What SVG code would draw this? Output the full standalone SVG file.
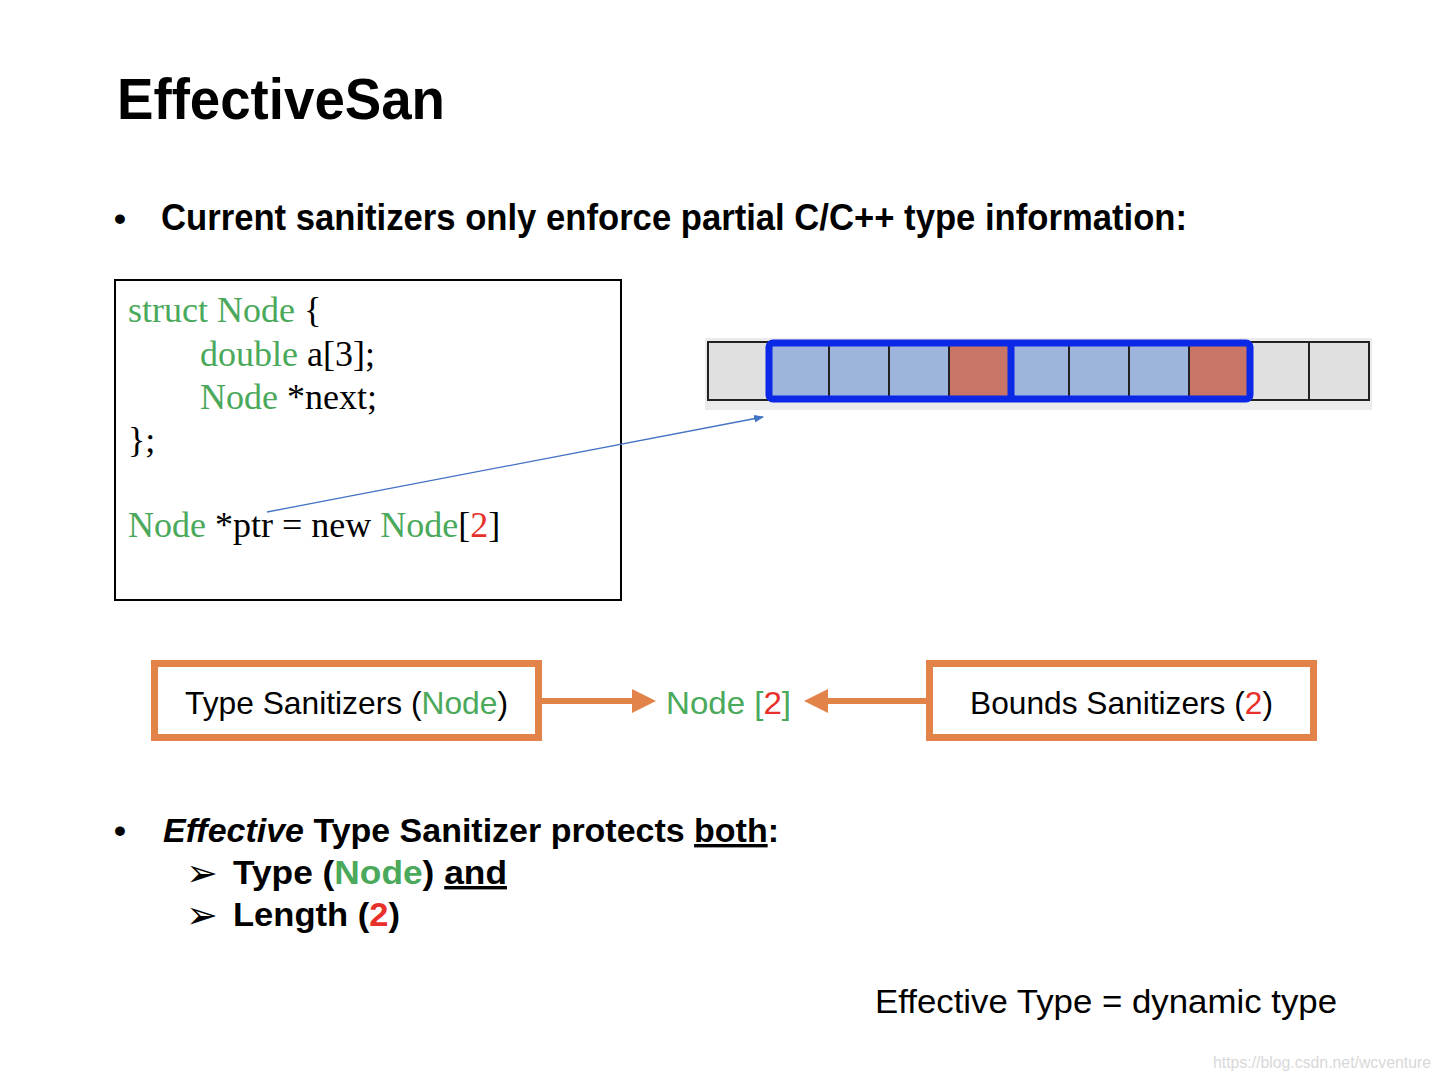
<svg xmlns="http://www.w3.org/2000/svg" width="1440" height="1080" viewBox="0 0 1440 1080">
<style>
.sans{font-family:"Liberation Sans","Noto Sans",Arial,sans-serif;}
.serif{font-family:"Liberation Serif","Times New Roman",serif;font-size:36px;fill:#000;}
.g{fill:#4aa95a;}
.r{fill:#e8302a;}
.cell{stroke:#222;stroke-width:2;}
.gray{fill:#e0e0e0;}
.blue{fill:#9db4dd;}
.red{fill:#c87466;}
.obox{fill:#fff;stroke:#e2844a;stroke-width:7;}
.oline{stroke:#e2844a;stroke-width:6;fill:none;}
.tri{font-family:"DejaVu Sans",sans-serif;font-size:38px;}
</style>
<defs>
<marker id="oa" markerWidth="4" markerHeight="4" refX="3" refY="2" orient="auto" markerUnits="strokeWidth" viewBox="0 0 4 4">
<path d="M0,0 L4,2 L0,4 Z" fill="#e2844a"/>
</marker>
<marker id="ba" markerWidth="10" markerHeight="8" refX="9" refY="4" orient="auto" markerUnits="userSpaceOnUse" viewBox="0 0 10 8">
<path d="M0,0 L10,4 L0,8 Z" fill="#4472c4"/>
</marker>
</defs>
<rect width="1440" height="1080" fill="#fff"/>

<text class="sans" x="117" y="119" font-size="58" font-weight="bold" textLength="328" lengthAdjust="spacingAndGlyphs">EffectiveSan</text>

<text class="sans" x="114" y="230" font-size="34" font-weight="bold">•</text>
<text class="sans" x="161" y="230" font-size="36" font-weight="bold" textLength="1026" lengthAdjust="spacingAndGlyphs">Current sanitizers only enforce partial C/C++ type information:</text>

<g id="code">
<rect x="115" y="280" width="506" height="320" fill="#fff" stroke="#000" stroke-width="2"/>
<text class="serif" x="128" y="322"><tspan class="g">struct Node</tspan> {</text>
<text class="serif" x="200" y="366"><tspan class="g">double</tspan> a[3];</text>
<text class="serif" x="200" y="409"><tspan class="g">Node</tspan> *next;</text>
<text class="serif" x="128" y="452">};</text>
<text class="serif" x="128" y="537"><tspan class="g">Node</tspan> *ptr = new <tspan class="g">Node</tspan>[<tspan class="r">2</tspan>]</text>
</g>

<g id="memory">
<rect x="705" y="338" width="667" height="72" fill="#ebebeb"/>
<rect class="cell gray" x="708" y="342" width="60" height="58"/>
<rect class="cell blue" x="768" y="342" width="61" height="58"/>
<rect class="cell blue" x="829" y="342" width="60" height="58"/>
<rect class="cell blue" x="889" y="342" width="60" height="58"/>
<rect class="cell red" x="949" y="342" width="62" height="58"/>
<rect class="cell blue" x="1011" y="342" width="58" height="58"/>
<rect class="cell blue" x="1069" y="342" width="60" height="58"/>
<rect class="cell blue" x="1129" y="342" width="60" height="58"/>
<rect class="cell red" x="1189" y="342" width="62" height="58"/>
<rect class="cell gray" x="1251" y="342" width="58" height="58"/>
<rect class="cell gray" x="1309" y="342" width="60" height="58"/>
<rect x="769" y="343" width="481" height="56" rx="4" fill="none" stroke="#0a28e6" stroke-width="7"/>
<line x1="1011" y1="343" x2="1011" y2="399" stroke="#0a28e6" stroke-width="7"/>
</g>

<g id="typesan">
<rect class="obox" x="154.5" y="663.5" width="384" height="74"/>
<text class="sans" x="185" y="714" font-size="32" textLength="323" lengthAdjust="spacingAndGlyphs">Type Sanitizers (<tspan class="g">Node</tspan>)</text>
</g>
<g id="nodelabel">
<text class="sans g" x="666" y="714" font-size="32" textLength="125" lengthAdjust="spacingAndGlyphs">Node [<tspan class="r">2</tspan>]</text>
</g>
<g id="boundssan">
<rect class="obox" x="929.5" y="663.5" width="384" height="74"/>
<text class="sans" x="970" y="714" font-size="32" textLength="303" lengthAdjust="spacingAndGlyphs">Bounds Sanitizers (<tspan class="r">2</tspan>)</text>
</g>

<g id="connectors">
<line x1="542" y1="701" x2="650" y2="701" class="oline" marker-end="url(#oa)"/>
<line x1="926" y1="701" x2="810" y2="701" class="oline" marker-end="url(#oa)"/>
<line x1="267" y1="512" x2="763" y2="417" stroke="#4472c4" stroke-width="1.3" marker-end="url(#ba)"/>
</g>

<text class="sans" x="114" y="842" font-size="34" font-weight="bold">•</text>
<text class="sans" x="163" y="842" font-size="34" font-weight="bold" textLength="616" lengthAdjust="spacingAndGlyphs"><tspan font-style="italic">Effective</tspan> Type Sanitizer protects <tspan text-decoration="underline">both</tspan>:</text>
<text class="tri" x="186" y="886">➢</text>
<text class="sans" x="233" y="884" font-size="34" font-weight="bold" textLength="274" lengthAdjust="spacingAndGlyphs">Type (<tspan class="g">Node</tspan>) <tspan text-decoration="underline">and</tspan></text>
<text class="tri" x="186" y="928">➢</text>
<text class="sans" x="233" y="926" font-size="34" font-weight="bold" textLength="167" lengthAdjust="spacingAndGlyphs">Length (<tspan class="r">2</tspan>)</text>

<text class="sans" x="875" y="1013" font-size="34" textLength="462" lengthAdjust="spacingAndGlyphs">Effective Type = dynamic type</text>
<text class="sans" x="1213" y="1068" font-size="16" fill="#d8d8d8" textLength="218" lengthAdjust="spacingAndGlyphs">https://blog.csdn.net/wcventure</text>
</svg>
